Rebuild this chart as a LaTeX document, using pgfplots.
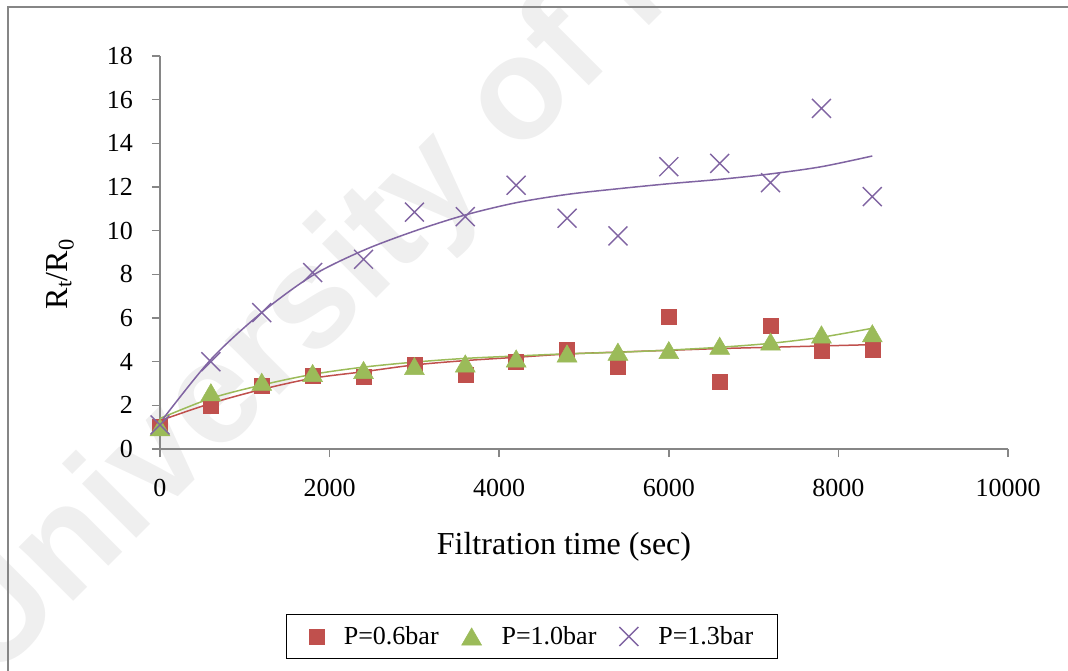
\documentclass[border=0pt]{standalone}
\usepackage{fontspec}
\setmainfont{Liberation Serif}
\newfontfamily\wmfont{Liberation Sans}
\usepackage{pgfplots}
\pgfplotsset{compat=1.18}
\definecolor{cred}{HTML}{C0504D}
\definecolor{cgreen}{HTML}{9BBB59}
\definecolor{cpurple}{HTML}{8064A2}
\definecolor{axisgray}{HTML}{868686}
\definecolor{wmgray}{HTML}{EFEFEF}
\begin{document}
\begin{tikzpicture}[x=1pt,y=1pt]
\useasboundingbox (-160,-221) rectangle (908,449);
\node[anchor=base west, inner sep=0pt, rotate=45, text=wmgray, font=\wmfont\bfseries\fontsize{145}{145}\selectfont] at (-167.2,-233.2) {University of Malaya};
\draw[color=axisgray, line width=1.5pt] (-152,-240) -- (-152,442) -- (930,442);
\begin{axis}[
  at={(0,0)}, anchor=south west,
  scale only axis, width=848pt, height=393pt,
  xmin=0, xmax=10000, ymin=0, ymax=18,
  xtick={0,2000,...,10000}, ytick={0,2,...,18},
  axis lines*=left,
  axis line style={draw=axisgray, line width=1.5pt},
  tick style={draw=axisgray, line width=1.5pt},
  tick align=outside, major tick length=8pt,
  scaled ticks=false,
  /pgf/number format/assume math mode=true,
  /pgf/number format/set thousands separator={},
  ticklabel style={font=\fontsize{26}{30}\selectfont},
  xticklabel style={anchor=center, inner sep=0pt, yshift=-31pt},
  yticklabel style={anchor=east, inner sep=0pt, xshift=-19pt},
  xlabel={Filtration time (sec)},
  ylabel={R\textsubscript{t}/R\textsubscript{0}},
  label style={font=\fontsize{32}{36}\selectfont},
  xlabel style={at={(axis description cs:0.4764,-0.2672)}, anchor=base},
  ylabel style={at={(axis description cs:-0.118,0.445)}, anchor=center},
  clip=false,
  legend columns=3,
  legend style={at={(axis description cs:0.4387,-0.477)}, anchor=center,
    draw=black, line width=1pt, font=\fontsize{26}{30}\selectfont,
    inner xsep=22pt, inner ysep=10pt,
    /tikz/every odd column/.append style={column sep=18pt},
    /tikz/every even column/.append style={column sep=21pt}},
]
\addplot[only marks, mark=square*, mark size=7.5pt, color=cred, mark options={line width=0.5pt}] coordinates {
(0,1.0)(600,2.0)(1200,2.9)(1800,3.35)(2400,3.3)(3000,3.85)(3600,3.4)(4200,4.0)(4800,4.55)(5400,3.75)(6000,6.08)(6600,3.1)(7200,5.63)(7800,4.48)(8400,4.53)};
\addlegendentry{P=0.6bar}
\addplot[only marks, mark=triangle*, mark size=11.5pt, color=cgreen, mark options={yshift=-2.9pt, line width=0.5pt}] coordinates {
(0,1.0)(600,2.6)(1200,3.08)(1800,3.48)(2400,3.62)(3000,3.8)(3600,3.92)(4200,4.15)(4800,4.38)(5400,4.46)(6000,4.53)(6600,4.73)(7200,4.92)(7800,5.25)(8400,5.3)};
\addlegendentry{P=1.0bar}
\addplot[only marks, mark=x, mark size=13.4pt, color=cpurple, mark options={line width=1.4pt}] coordinates {
(0,1.1)(600,4.0)(1200,6.25)(1800,8.08)(2400,8.69)(3000,10.85)(3600,10.64)(4200,12.08)(4800,10.57)(5400,9.76)(6000,12.93)(6600,13.08)(7200,12.2)(7800,15.6)(8400,11.56)};
\addlegendentry{P=1.3bar}
% trendlines
\addplot[forget plot, no marks, smooth, color=cred, line width=1.5pt] coordinates {
(0,1.3)(600,2.09)(1200,2.73)(1800,3.24)(2400,3.54)(3000,3.85)(3600,4.05)(4200,4.2)(4800,4.35)(5400,4.44)(6000,4.52)(6600,4.6)(7200,4.66)(7800,4.72)(8400,4.78)};
\addplot[forget plot, no marks, smooth, color=cgreen, line width=1.5pt] coordinates {
(0,1.4)(600,2.32)(1200,2.93)(1800,3.42)(2400,3.75)(3000,3.98)(3600,4.15)(4200,4.26)(4800,4.36)(5400,4.43)(6000,4.53)(6600,4.66)(7200,4.84)(7800,5.12)(8400,5.53)};
\addplot[forget plot, no marks, smooth, color=cpurple, line width=1.5pt] coordinates {
(0,1.2)(600,4.1)(1200,6.25)(1800,7.95)(2400,9.1)(3000,9.98)(3600,10.72)(4200,11.28)(4800,11.66)(5400,11.92)(6000,12.15)(6600,12.35)(7200,12.6)(7800,12.93)(8400,13.42)};
\end{axis}
\end{tikzpicture}
\end{document}
